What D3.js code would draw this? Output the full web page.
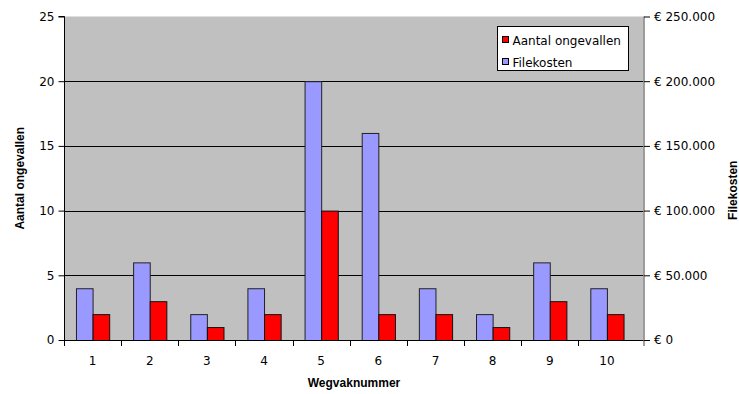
<!DOCTYPE html>
<html>
<head>
<meta charset="utf-8">
<script src="https://cdn.jsdelivr.net/npm/d3@7"></script>
<style>
  html, body { margin: 0; padding: 0; background: #ffffff; }
  svg { display: block; }
  .tick-label { font-family: "DejaVu Sans", sans-serif; font-size: 12px; fill: #000; }
  .axis-title { font-family: "Liberation Sans", Arial, sans-serif; font-size: 12px; font-weight: bold; fill: #000; }
</style>
</head>
<body>
<svg id="chart" width="739" height="394"></svg>
<script>
// Wegvakken en hun cijfers
const categories = ["1", "2", "3", "4", "5", "6", "7", "8", "9", "10"];
const ongevallen = [2, 3, 1, 2, 10, 2, 2, 1, 3, 2];
const filekosten = [40000, 60000, 20000, 40000, 200000, 160000, 40000, 20000, 60000, 40000];
const leftTicks = [0, 5, 10, 15, 20, 25];
const rightTicks = [0, 50000, 100000, 150000, 200000, 250000];
const seriesNames = ["Aantal ongevallen", "Filekosten"];

const colors = { ongevallen: "#ff0000", filekosten: "#9999ff" };

const svg = d3.select("#chart");
const plot = { left: 64, right: 643.5, top: 16.5, bottom: 340 };

const x = d3.scaleBand().domain(categories).range([64, 635.5]).paddingInner(0).paddingOuter(0);
const inner = d3.scaleBand().domain(["filekosten", "ongevallen"])
  .range([0, x.bandwidth()]).paddingInner(0).paddingOuter(0.72);
const yLeft = d3.scaleLinear().domain([0, 25]).range([plot.bottom, plot.top]);
const yRight = d3.scaleLinear().domain([0, 250000]).range([plot.bottom, plot.top]);

// plot background
svg.append("rect")
  .attr("x", plot.left).attr("y", plot.top)
  .attr("width", plot.right - plot.left).attr("height", plot.bottom - plot.top)
  .attr("fill", "#c0c0c0");

// horizontal gridlines
svg.append("g").selectAll("line")
  .data(leftTicks.filter(t => t > 0 && t < 25))
  .join("line")
  .attr("x1", plot.left).attr("x2", plot.right)
  .attr("y1", d => Math.round(yLeft(d)) + 0.5).attr("y2", d => Math.round(yLeft(d)) + 0.5)
  .attr("stroke", "#000").attr("stroke-width", 1);

// bars
const groups = svg.append("g").selectAll("g")
  .data(categories.map((c, i) => ({ c, o: ongevallen[i], f: filekosten[i] })))
  .join("g")
  .attr("transform", d => `translate(${x(d.c)},0)`);

groups.append("rect")
  .attr("x", inner("filekosten") + 0.5)
  .attr("y", d => yRight(d.f) + 0.5)
  .attr("width", inner.bandwidth())
  .attr("height", d => yRight(0) - yRight(d.f))
  .attr("fill", colors.filekosten)
  .attr("stroke", "#222").attr("stroke-width", 1);

groups.append("rect")
  .attr("x", inner("ongevallen") + 0.5)
  .attr("y", d => yLeft(d.o) + 0.5)
  .attr("width", inner.bandwidth())
  .attr("height", d => yLeft(0) - yLeft(d.o))
  .attr("fill", colors.ongevallen)
  .attr("stroke", "#111").attr("stroke-width", 1);

// right border / secondary axis line
svg.append("line")
  .attr("x1", plot.right + 0.5).attr("x2", plot.right + 0.5)
  .attr("y1", plot.top).attr("y2", plot.bottom + 6)
  .attr("stroke", "#808080").attr("stroke-width", 1.5);

// left axis
const leftAxis = d3.axisLeft(yLeft).tickValues(leftTicks).tickSize(6).tickPadding(4).tickFormat(d3.format("d"));
const gl = svg.append("g").attr("transform", `translate(${plot.left + 0.5},0)`).call(leftAxis);
gl.select(".domain").attr("stroke", "#000").attr("d", `M-6,${plot.top}H0V${plot.bottom}`);
gl.selectAll(".tick line").attr("stroke", "#000");
gl.selectAll(".tick text").attr("class", "tick-label").attr("font-family", null).attr("font-size", null);

// right axis
const euro = d => "€ " + d3.format(",")(d).replace(/,/g, ".");
const rightAxis = d3.axisRight(yRight).tickValues(rightTicks).tickSize(6).tickPadding(4).tickFormat(euro);
const gr = svg.append("g").attr("transform", `translate(${plot.right + 0.5},0)`).call(rightAxis);
gr.select(".domain").remove();
gr.selectAll(".tick line").attr("stroke", "#000");
gr.selectAll(".tick text").attr("class", "tick-label").attr("font-family", null).attr("font-size", null);

// category axis
const bottomAxis = d3.axisBottom(x).tickSize(0).tickPadding(16);
const gb = svg.append("g").attr("transform", `translate(0,${plot.bottom + 0.5})`).call(bottomAxis);
gb.select(".domain").attr("stroke", "#000").attr("d", `M${plot.left},0H${plot.right}`);
gb.selectAll(".tick text").attr("class", "tick-label").attr("font-family", null).attr("font-size", null);
// tick marks between categories
svg.append("g").selectAll("line")
  .data(categories)
  .join("line")
  .attr("x1", d => Math.round(x(d)) + 0.5).attr("x2", d => Math.round(x(d)) + 0.5)
  .attr("y1", plot.bottom).attr("y2", plot.bottom + 6)
  .attr("stroke", "#000");

// axis titles
svg.append("text").attr("class", "axis-title")
  .attr("transform", `translate(24,${(plot.top + plot.bottom) / 2}) rotate(-90)`)
  .attr("text-anchor", "middle").text("Aantal ongevallen");
svg.append("text").attr("class", "axis-title")
  .attr("transform", `translate(737,${(plot.top + plot.bottom) / 2 + 12}) rotate(-90)`)
  .attr("text-anchor", "middle").text("Filekosten");
svg.append("text").attr("class", "axis-title")
  .attr("x", 354).attr("y", 387)
  .attr("text-anchor", "middle").text("Wegvaknummer");

// legend
const legend = svg.append("g").attr("transform", "translate(497.5,26.5)");
legend.append("rect").attr("width", 131).attr("height", 44)
  .attr("fill", "#fff").attr("stroke", "#000");
const legendColors = [colors.ongevallen, colors.filekosten];
seriesNames.forEach((name, i) => {
  const yy = 14 + i * 22;
  legend.append("rect").attr("x", 5).attr("y", yy - 4).attr("width", 6).attr("height", 6)
    .attr("fill", legendColors[i]).attr("stroke", "#000");
  legend.append("text").attr("class", "tick-label")
    .attr("x", 15).attr("y", yy + 4).text(name);
});
</script>
</body>
</html>
